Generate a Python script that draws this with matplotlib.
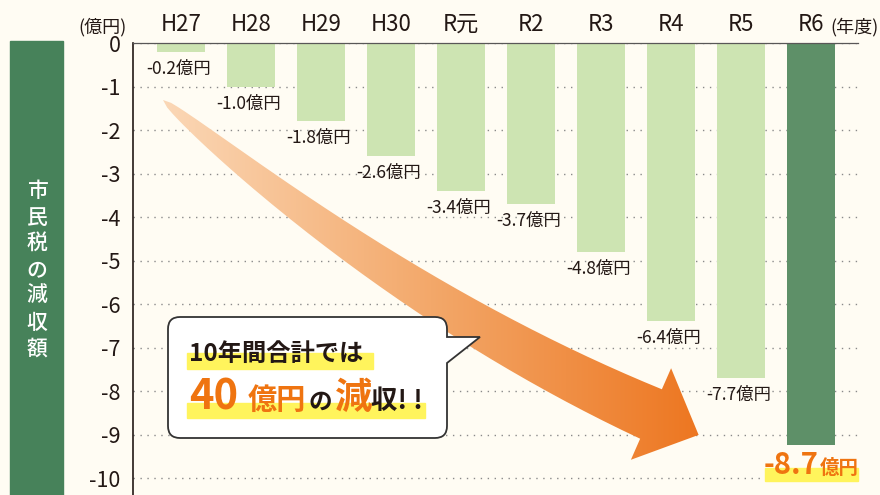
import matplotlib

matplotlib.use("Agg")
import matplotlib.pyplot as plt
import numpy as np
from matplotlib.colors import LinearSegmentedColormap
from matplotlib.patches import PathPatch, Rectangle
from matplotlib.path import Path

plt.rcParams["font.family"] = ["Noto Sans CJK JP", "DejaVu Sans"]
plt.rcParams["axes.unicode_minus"] = False

years = ["H27", "H28", "H29", "H30", "R元", "R2", "R3", "R4", "R5", "R6"]
values = [-0.2, -1.0, -1.8, -2.6, -3.4, -3.7, -4.8, -6.4, -7.7, -8.7]
# where each bar ends in the picture (the R6 bar runs past its label)
bar_ends = [-0.2, -1.0, -1.8, -2.6, -3.4, -3.7, -4.8, -6.4, -7.7, -9.25]
yticks = list(range(0, -11, -1))

BG = "#fffcf3"
LIGHT = "#cde4b2"
DARK = "#5e9068"
PANEL = "#47825a"
INK = "#231815"
ORANGE = "#ef7410"
YELLOW = "#fff45c"

fig = plt.figure(figsize=(8.8, 4.95), dpi=100, facecolor=BG)
ax = fig.add_axes([133 / 880, 0, (858 - 133) / 880, 1 - 43 / 495])
ax.set_facecolor(BG)

x = np.arange(len(years))
colors = [LIGHT] * (len(years) - 1) + [DARK]
ax.bar(x, bar_ends, width=0.686, color=colors, zorder=2)

for i, (v, e) in enumerate(zip(values[:-1], bar_ends[:-1])):
    ax.text(i - 0.03, e - 0.39, f"{v:.1f}億円", ha="center", va="center",
            fontsize=12.5, color=INK, zorder=4)

# highlighted label for the last year
last = len(years) - 1
ax.add_patch(Rectangle((last - 0.657, bar_ends[-1] - 0.81), 1.33, 0.29,
                       color=YELLOW, clip_on=False, zorder=3))
ax.text(last + 0.11, bar_ends[-1] - 0.66, f"{values[-1]:.1f}", ha="right",
        va="baseline", fontsize=21, fontweight="bold", color=ORANGE, zorder=4)
ax.text(last + 0.13, bar_ends[-1] - 0.66, "億円", ha="left", va="baseline",
        fontsize=14, fontweight="bold", color=ORANGE, zorder=4)

ax.set_xlim(-0.686, 9.671)
ax.set_ylim(-10.39, 0)
ax.set_yticks(yticks)
ax.set_yticklabels([str(t) for t in yticks])
ax.set_xticks(x)
ax.set_xticklabels(years)
ax.xaxis.tick_top()
ax.tick_params(axis="x", length=0, pad=5, labelsize=16, colors=INK)
ax.tick_params(axis="y", length=0, pad=9, labelsize=15.5, colors=INK)
ax.yaxis.grid(True, linestyle=(0, (1, 4)), color="#8a8a8a", linewidth=1, zorder=1)
ax.set_axisbelow(True)
for s in ["right", "bottom"]:
    ax.spines[s].set_visible(False)
ax.spines["left"].set_color(INK)
ax.spines["left"].set_linewidth(1.2)
ax.spines["top"].set_color("#595757")
ax.spines["top"].set_linewidth(0.9)

# decorations drawn in pixel space (y down)
deco = fig.add_axes([0, 0, 1, 1])
deco.set_facecolor("none")
deco.axis("off")

deco.add_patch(Rectangle((10, 41), 53, 460, color=PANEL, zorder=1))
deco.text(37, 270, "\n".join("市民税の減収額"), ha="center", va="center",
          color="white", fontsize=15, linespacing=1.25, fontweight="medium")
deco.text(103, 27, "(億円)", ha="center", va="center", fontsize=13, color=INK)
deco.text(854, 27, "(年度)", ha="center", va="center", fontsize=13, color=INK)

# curved arrow: quadratic centreline, width growing along it
p0, p1, p2 = np.array([163, 100]), np.array([405, 306]), np.array([651, 414])
t = np.linspace(0, 1, 80)[:, None]
centre = (1 - t) ** 2 * p0 + 2 * (1 - t) * t * p1 + t ** 2 * p2
deriv = 2 * (1 - t) * (p1 - p0) + 2 * t * (p2 - p1)
tang = deriv / np.linalg.norm(deriv, axis=1, keepdims=True)
norm = np.column_stack([-tang[:, 1], tang[:, 0]])
half = 27 * np.sqrt(t)
upper = centre - norm * half
lower = centre + norm * half
tu, nu = tang[-1], norm[-1]
head = [p2 - nu * 50, p2 + tu * 52, p2 + nu * 50]
pts = np.vstack([upper, head, lower[::-1]])
arrow = PathPatch(Path(pts), fc="none", ec="none", zorder=2)
deco.add_patch(arrow)
cmap = LinearSegmentedColormap.from_list("arr", ["#fbd8b7", "#f3a86a", "#ed7620"])
im = deco.imshow(np.linspace(0, 1, 256).reshape(1, -1), extent=[160, 702, 465, 95],
                 cmap=cmap, aspect="auto", zorder=2, interpolation="bilinear")
im.set_clip_path(arrow)

# speech bubble
L, T, R, B, r = 168, 317, 447, 438, 12
verts = [(L + r, T), (R - r, T), (R, T), (R, T + r), (R, 337), (480, 337), (R, 363),
         (R, B - r), (R, B), (R - r, B), (L + r, B), (L, B), (L, B - r), (L, T + r),
         (L, T), (L + r, T), (L + r, T)]
codes = [Path.MOVETO, Path.LINETO, Path.CURVE3, Path.CURVE3, Path.LINETO, Path.LINETO,
         Path.LINETO, Path.LINETO, Path.CURVE3, Path.CURVE3, Path.LINETO, Path.CURVE3,
         Path.CURVE3, Path.LINETO, Path.CURVE3, Path.CURVE3, Path.CLOSEPOLY]
deco.add_patch(PathPatch(Path(verts, codes), fc="white", ec="#333333", lw=1.3, zorder=5))

deco.add_patch(Rectangle((187, 353), 186, 16, color=YELLOW, zorder=6))
deco.add_patch(Rectangle((187, 403), 238, 15, color=YELLOW, zorder=6))
deco.text(189, 354, "10年間合計では", ha="left", va="center", fontsize=17.5,
          fontweight="bold", color=INK, zorder=7)
pieces = [(189, "40", 30, ORANGE), (248, "億円", 21, ORANGE), (309, "の", 17, INK),
          (335, "減", 27, ORANGE), (371, "収! !", 19, INK)]
for px, s, fs, c in pieces:
    deco.text(px, 409, s, ha="left", va="baseline", fontsize=fs, fontweight="bold",
              color=c, zorder=7)

deco.set_xlim(0, 880)
deco.set_ylim(495, 0)

fig.savefig("out.png", dpi=100, facecolor=BG)
